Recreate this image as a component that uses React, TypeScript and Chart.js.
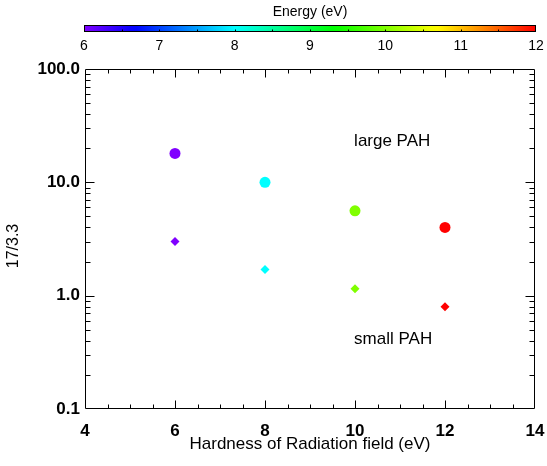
import React, { useEffect, useRef } from 'react';
import { Chart, registerables } from 'chart.js';

Chart.register(...registerables);

// Hardness of the radiation field (eV) for each measurement
const hardness = [6, 8, 10, 12];
// 17 / 3.3 band ratio for the two PAH size classes
const largePAH = [18.0, 10.0, 5.6, 4.0];
const smallPAH = [3.0, 1.7, 1.15, 0.8];

const xTicks = [4, 6, 8, 10, 12, 14];
const yTicks = [0.1, 1, 10, 100];
const energyTicks = [6, 7, 8, 9, 10, 11, 12];

const E_MIN = 6;
const E_MAX = 12;
const FONT = '"Liberation Sans", Arial, Helvetica, sans-serif';

// rainbow map: violet at E_MIN through to red at E_MAX
function energyColor(e: number): string {
  const t = Math.min(1, Math.max(0, (e - E_MIN) / (E_MAX - E_MIN)));
  return `hsl(${270 * (1 - t)}, 100%, 50%)`;
}

const pointColors = hardness.map(energyColor);

const decorations = {
  id: 'decorations',
  afterDraw(chart: any) {
    const { ctx, chartArea } = chart;
    const { left, right, top, bottom } = chartArea;
    const xs = chart.scales.x;
    const ys = chart.scales.y;
    ctx.save();
    ctx.strokeStyle = '#000';
    ctx.lineWidth = 1;

    const L = Math.round(left) + 0.5;
    const R = Math.round(right) - 0.5;
    const T = Math.round(top) + 0.5;
    const B = Math.round(bottom) - 0.5;
    ctx.beginPath();
    ctx.moveTo(L, T);
    ctx.lineTo(R, T);
    ctx.lineTo(R, B);
    ctx.lineTo(L, B);
    ctx.closePath();
    ctx.stroke();

    // inward ticks on bottom and top
    ctx.beginPath();
    for (let v = 4.5; v < 14; v += 0.5) {
      const px = Math.round(xs.getPixelForValue(v)) + 0.5;
      const len = v % 2 === 0 ? 8 : 4;
      ctx.moveTo(px, B);
      ctx.lineTo(px, B - len);
      ctx.moveTo(px, T);
      ctx.lineTo(px, T + len);
    }
    // inward ticks on left and right (log minor ticks)
    for (const d of [0.1, 1, 10]) {
      for (let m = 1; m <= 9; m++) {
        const v = d * m;
        if (m === 1 && d === 0.1) continue;
        const py = Math.round(ys.getPixelForValue(v)) + 0.5;
        const len = m === 1 ? 9 : 5;
        ctx.moveTo(L, py);
        ctx.lineTo(L + len, py);
        ctx.moveTo(R, py);
        ctx.lineTo(R - len, py);
      }
    }
    ctx.stroke();

    // axis titles
    ctx.fillStyle = '#000';
    ctx.font = `17px ${FONT}`;
    ctx.textAlign = 'center';
    ctx.textBaseline = 'middle';
    ctx.fillText('Hardness of Radiation field (eV)', (left + right) / 2, 444);
    ctx.save();
    ctx.translate(14, 246);
    ctx.rotate(-Math.PI / 2);
    ctx.font = `16px ${FONT}`;
    ctx.fillText('17/3.3', 0, 0);
    ctx.restore();

    // series labels
    ctx.font = `17px ${FONT}`;
    ctx.textAlign = 'left';
    ctx.fillText('large PAH', xs.getPixelForValue(9.98), ys.getPixelForValue(23));
    ctx.fillText('small PAH', xs.getPixelForValue(9.98), ys.getPixelForValue(0.41));

    // colour bar
    const cbL = Math.round(left) - 1;
    const cbR = Math.round(right) + 1;
    const cbT = 25;
    const cbB = 32;
    const grad = ctx.createLinearGradient(cbL, 0, cbR, 0);
    for (let i = 0; i <= 60; i++) {
      const f = i / 60;
      grad.addColorStop(f, energyColor(E_MIN + f * (E_MAX - E_MIN)));
    }
    ctx.fillStyle = grad;
    ctx.fillRect(cbL, cbT, cbR - cbL, cbB - cbT);
    ctx.strokeRect(cbL + 0.5, cbT + 0.5, cbR - cbL - 1, cbB - cbT - 1);
    const ePx = (e: number) => cbL + ((e - E_MIN) / (E_MAX - E_MIN)) * (cbR - cbL);
    ctx.beginPath();
    for (let e = E_MIN + 0.5; e < E_MAX; e += 0.5) {
      const px = Math.round(ePx(e)) + 0.5;
      ctx.moveTo(px, cbB - 0.5);
      ctx.lineTo(px, cbB - 2.5);
    }
    ctx.stroke();
    ctx.fillStyle = '#000';
    ctx.font = `14px ${FONT}`;
    ctx.textAlign = 'center';
    ctx.textBaseline = 'middle';
    for (const e of energyTicks) {
      ctx.fillText(String(e), ePx(e), 46);
    }
    ctx.fillText('Energy (eV)', (cbL + cbR) / 2, 12);
    ctx.restore();
  },
};

export default function App() {
  const ref = useRef<HTMLCanvasElement | null>(null);

  useEffect(() => {
    if (!ref.current) return;
    const chart = new Chart(ref.current, {
      type: 'scatter',
      data: {
        datasets: [
          {
            label: 'large PAH',
            data: hardness.map((x, i) => ({ x, y: largePAH[i] })),
            pointStyle: 'circle',
            pointRadius: 5.5,
            pointHoverRadius: 5.5,
            pointBorderWidth: 0,
            pointBackgroundColor: pointColors,
            pointBorderColor: pointColors,
          },
          {
            label: 'small PAH',
            data: hardness.map((x, i) => ({ x, y: smallPAH[i] })),
            pointStyle: 'rectRot',
            pointRadius: 4.5,
            pointHoverRadius: 4.5,
            pointBorderWidth: 0,
            pointBackgroundColor: pointColors,
            pointBorderColor: pointColors,
          },
        ],
      },
      options: {
        animation: false,
        responsive: false,
        events: [],
        layout: { padding: { left: 0, right: 12, top: 69, bottom: 0 } },
        plugins: { legend: { display: false }, tooltip: { enabled: false } },
        scales: {
          x: {
            type: 'linear',
            min: 4,
            max: 14,
            grid: { display: false, drawTicks: false },
            border: { display: false },
            afterBuildTicks: (s: any) => {
              s.ticks = xTicks.map((value) => ({ value }));
            },
            afterFit: (s: any) => {
              s.height = 57;
              s.paddingLeft = 0;
              s.paddingRight = 0;
            },
            ticks: {
              color: '#000',
              padding: 12,
              maxRotation: 0,
              font: { family: FONT, size: 17, weight: 'bold' },
              callback: (v: any) => String(v),
            },
          },
          y: {
            type: 'logarithmic',
            min: 0.1,
            max: 100,
            grid: { display: false, drawTicks: false },
            border: { display: false },
            afterBuildTicks: (s: any) => {
              s.ticks = yTicks.map((value) => ({ value }));
            },
            afterFit: (s: any) => {
              s.width = 85;
              s.paddingTop = 0;
              s.paddingBottom = 0;
            },
            ticks: {
              color: '#000',
              padding: 5,
              font: { family: FONT, size: 17, weight: 'bold' },
              callback: (v: any) => Number(v).toFixed(1),
            },
          },
        },
      },
      plugins: [decorations],
    });
    return () => chart.destroy();
  }, []);

  return (
    <div style={{ position: 'absolute', left: 0, top: 0, width: 547, height: 466, background: '#fff' }}>
      <canvas ref={ref} width={547} height={466} />
    </div>
  );
}
